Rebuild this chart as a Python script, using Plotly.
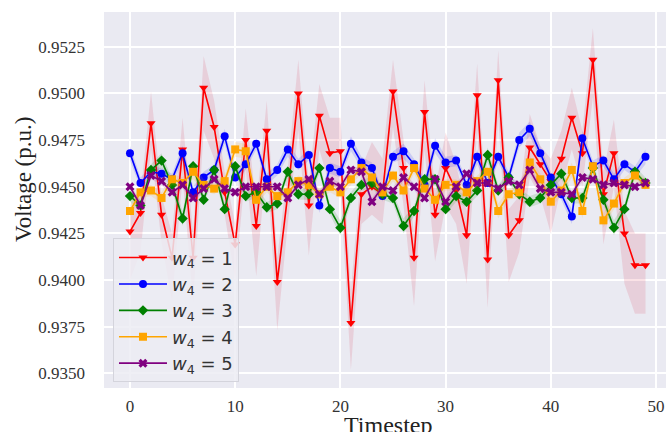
import plotly.graph_objects as go

timesteps = list(range(50))

red = [0.9426, 0.9436, 0.9484, 0.9435, 0.9412, 0.9470, 0.9412, 0.9503, 0.9482, 0.9447,
       0.9419, 0.9475, 0.9429, 0.9480, 0.9399, 0.9446, 0.9500, 0.9440, 0.9488, 0.9468,
       0.9469, 0.9377, 0.9446, 0.9450, 0.9446, 0.9501, 0.9460, 0.9412, 0.9490, 0.9435,
       0.9460, 0.9448, 0.9424, 0.9499, 0.9411, 0.9507, 0.9424, 0.9432, 0.9471, 0.9462,
       0.9453, 0.9465, 0.9487, 0.9468, 0.9518, 0.9446, 0.9468, 0.9425, 0.9408, 0.9408]
red_lo = [0.9400, 0.9415, 0.9470, 0.9420, 0.9389, 0.9455, 0.9388, 0.9480, 0.9465, 0.9435,
          0.9400, 0.9460, 0.9402, 0.9465, 0.9373, 0.9430, 0.9480, 0.9413, 0.9470, 0.9450,
          0.9450, 0.9352, 0.9430, 0.9435, 0.9430, 0.9482, 0.9440, 0.9386, 0.9470, 0.9410,
          0.9440, 0.9430, 0.9398, 0.9480, 0.9385, 0.9487, 0.9399, 0.9415, 0.9455, 0.9445,
          0.9425, 0.9450, 0.9470, 0.9450, 0.9498, 0.9419, 0.9450, 0.9398, 0.9382, 0.9382]
red_hi = [0.9438, 0.9445, 0.9501, 0.9445, 0.9425, 0.9487, 0.9425, 0.9520, 0.9496, 0.9458,
          0.9430, 0.9492, 0.9440, 0.9496, 0.9412, 0.9460, 0.9518, 0.9452, 0.9505, 0.9487,
          0.9487, 0.9395, 0.9460, 0.9474, 0.9465, 0.9518, 0.9475, 0.9425, 0.9507, 0.9448,
          0.9479, 0.9462, 0.9437, 0.9516, 0.9425, 0.9523, 0.9438, 0.9445, 0.9489, 0.9472,
          0.9465, 0.9480, 0.9503, 0.9480, 0.9535, 0.9458, 0.9486, 0.9437, 0.9425, 0.9425]

blue = [0.9468, 0.9452, 0.9458, 0.9457, 0.9454, 0.9468, 0.9447, 0.9455, 0.9459, 0.9477,
        0.9455, 0.9462, 0.9473, 0.9454, 0.9459, 0.9470, 0.9462, 0.9467, 0.9440, 0.9460,
        0.9458, 0.9473, 0.9463, 0.9460, 0.9445, 0.9466, 0.9469, 0.9462, 0.9451, 0.9472,
        0.9463, 0.9464, 0.9451, 0.9466, 0.9452, 0.9466, 0.9455, 0.9475, 0.9481, 0.9468,
        0.9455, 0.9446, 0.9434, 0.9476, 0.9461, 0.9464, 0.9454, 0.9462, 0.9458, 0.9466]
blue_sd = [0.0004, 0.0003, 0.0003, 0.0003, 0.0003, 0.0004, 0.0003, 0.0003, 0.0003, 0.0004,
           0.0003, 0.0003, 0.0003, 0.0003, 0.0003, 0.0004, 0.0003, 0.0003, 0.0004, 0.0003,
           0.0003, 0.0004, 0.0003, 0.0003, 0.0003, 0.0003, 0.0004, 0.0003, 0.0003, 0.0004,
           0.0003, 0.0003, 0.0003, 0.0004, 0.0003, 0.0003, 0.0003, 0.0004, 0.0004, 0.0003,
           0.0003, 0.0003, 0.0004, 0.0004, 0.0003, 0.0003, 0.0003, 0.0003, 0.0003, 0.0004]

green = [0.9445, 0.9440, 0.9459, 0.9464, 0.9451, 0.9433, 0.9461, 0.9443, 0.9459, 0.9438,
         0.9461, 0.9445, 0.9447, 0.9439, 0.9441, 0.9458, 0.9446, 0.9446, 0.9460, 0.9438,
         0.9428, 0.9444, 0.9451, 0.9452, 0.9446, 0.9444, 0.9429, 0.9437, 0.9454, 0.9454,
         0.9438, 0.9445, 0.9442, 0.9448, 0.9467, 0.9448, 0.9455, 0.9446, 0.9442, 0.9444,
         0.9451, 0.9457, 0.9444, 0.9444, 0.9460, 0.9443, 0.9428, 0.9438, 0.9458, 0.9452]
green_sd = [0.0003, 0.0003, 0.0003, 0.0004, 0.0003, 0.0004, 0.0003, 0.0003, 0.0003, 0.0003,
            0.0003, 0.0003, 0.0003, 0.0003, 0.0003, 0.0003, 0.0003, 0.0003, 0.0003, 0.0003,
            0.0004, 0.0003, 0.0003, 0.0003, 0.0003, 0.0003, 0.0004, 0.0003, 0.0003, 0.0003,
            0.0003, 0.0003, 0.0003, 0.0003, 0.0004, 0.0003, 0.0003, 0.0003, 0.0003, 0.0003,
            0.0003, 0.0003, 0.0003, 0.0003, 0.0003, 0.0003, 0.0004, 0.0003, 0.0003, 0.0003]

orange = [0.9437, 0.9447, 0.9448, 0.9444, 0.9454, 0.9452, 0.9458, 0.9451, 0.9449, 0.9453,
          0.9470, 0.9469, 0.9443, 0.9450, 0.9445, 0.9447, 0.9453, 0.9451, 0.9446, 0.9450,
          0.9447, 0.9454, 0.9460, 0.9455, 0.9447, 0.9456, 0.9448, 0.9460, 0.9449, 0.9443,
          0.9451, 0.9451, 0.9447, 0.9453, 0.9458, 0.9437, 0.9446, 0.9447, 0.9463, 0.9454,
          0.9442, 0.9448, 0.9459, 0.9437, 0.9461, 0.9432, 0.9441, 0.9452, 0.9456, 0.9451]
orange_sd = [0.0003, 0.0003, 0.0003, 0.0003, 0.0003, 0.0003, 0.0004, 0.0003, 0.0003, 0.0003,
             0.0004, 0.0004, 0.0003, 0.0003, 0.0003, 0.0003, 0.0003, 0.0003, 0.0003, 0.0003,
             0.0003, 0.0003, 0.0003, 0.0003, 0.0003, 0.0003, 0.0003, 0.0003, 0.0003, 0.0003,
             0.0003, 0.0003, 0.0003, 0.0003, 0.0003, 0.0004, 0.0003, 0.0003, 0.0004, 0.0003,
             0.0003, 0.0003, 0.0004, 0.0004, 0.0003, 0.0004, 0.0003, 0.0003, 0.0003, 0.0003]

purple = [0.9450, 0.9440, 0.9456, 0.9453, 0.9447, 0.9451, 0.9444, 0.9449, 0.9454, 0.9449,
          0.9447, 0.9450, 0.9450, 0.9450, 0.9450, 0.9444, 0.9451, 0.9454, 0.9446, 0.9453,
          0.9450, 0.9459, 0.9458, 0.9442, 0.9450, 0.9448, 0.9455, 0.9450, 0.9444, 0.9454,
          0.9442, 0.9450, 0.9457, 0.9452, 0.9452, 0.9449, 0.9453, 0.9451, 0.9459, 0.9449,
          0.9447, 0.9447, 0.9446, 0.9455, 0.9454, 0.9451, 0.9452, 0.9451, 0.9450, 0.9452]
purple_sd = [0.0002] * 50

series_names = ["<i>w</i><sub>4</sub> = 1", "<i>w</i><sub>4</sub> = 2", "<i>w</i><sub>4</sub> = 3",
                "<i>w</i><sub>4</sub> = 4", "<i>w</i><sub>4</sub> = 5"]

x_ticks = [0, 10, 20, 30, 40, 50]
y_ticks = [0.9350, 0.9375, 0.9400, 0.9425, 0.9450, 0.9475, 0.9500, 0.9525]

colors = ["#FF0000", "#0000FF", "#008000", "#FFA500", "#800080"]
fills = ["rgba(220,30,60,0.13)", "rgba(0,0,255,0.13)", "rgba(0,128,0,0.13)",
         "rgba(255,165,0,0.15)", "rgba(128,0,128,0.13)"]
symbols = ["triangle-down", "circle", "diamond", "square", "x"]

means = [red, blue, green, orange, purple]
los = [red_lo,
       [m - s for m, s in zip(blue, blue_sd)],
       [m - s for m, s in zip(green, green_sd)],
       [m - s for m, s in zip(orange, orange_sd)],
       [m - s for m, s in zip(purple, purple_sd)]]
his = [red_hi,
       [m + s for m, s in zip(blue, blue_sd)],
       [m + s for m, s in zip(green, green_sd)],
       [m + s for m, s in zip(orange, orange_sd)],
       [m + s for m, s in zip(purple, purple_sd)]]

fig = go.Figure()
for i in range(5):
    fig.add_trace(go.Scatter(x=timesteps, y=his[i], mode="lines", line=dict(width=0),
                             showlegend=False, hoverinfo="skip"))
    fig.add_trace(go.Scatter(x=timesteps, y=los[i], mode="lines", line=dict(width=0),
                             fill="tonexty", fillcolor=fills[i], showlegend=False, hoverinfo="skip"))
    fig.add_trace(go.Scatter(x=timesteps, y=means[i], mode="lines+markers", name=series_names[i],
                             line=dict(color=colors[i], width=1.6),
                             marker=dict(symbol=symbols[i], size=8, color=colors[i],
                                         line=dict(width=0))))

serif = "Liberation Serif"

fig.update_layout(
    width=666, height=432,
    margin=dict(l=104, r=0, t=12, b=44),
    paper_bgcolor="white",
    plot_bgcolor="#EAEAF2",
    font=dict(family=serif, color="#333333"),
    showlegend=True,
    legend=dict(
        x=0.016, y=0.015, xanchor="left", yanchor="bottom", traceorder="normal",
        bgcolor="rgba(236,236,243,0.85)", bordercolor="#D4D4DC", borderwidth=1,
        font=dict(family="DejaVu Sans", size=18, color="#333333"),
        itemwidth=48, tracegroupgap=0,
    ),
    xaxis=dict(
        range=[-2.47, 50.95], tickvals=x_ticks, ticktext=[str(v) for v in x_ticks],
        showgrid=True, gridcolor="white", gridwidth=1.5, zeroline=False,
        showline=False, ticks="", ticklabelstandoff=6,
        tickfont=dict(family=serif, size=17, color="#333333"),
    ),
    yaxis=dict(
        range=[0.93422, 0.95436], tickvals=y_ticks, ticktext=["%.4f" % v for v in y_ticks],
        showgrid=True, gridcolor="white", gridwidth=1.5, zeroline=False,
        showline=False, ticks="", ticklabelstandoff=18,
        tickfont=dict(family=serif, size=17, color="#333333"),
    ),
    annotations=[
        dict(text="Timestep", xref="paper", yref="paper", x=(388 - 104) / 562, y=-(425 - 388) / 376,
             xanchor="center", yanchor="middle", showarrow=False,
             font=dict(family=serif, size=24, color="#222222")),
        dict(text="Voltage (p.u.)", xref="paper", yref="paper", x=(23 - 104) / 562, y=(388 - 180) / 376,
             xanchor="center", yanchor="middle", showarrow=False, textangle=-90,
             font=dict(family=serif, size=23, color="#222222")),
    ],
)

fig.write_html("out.html", config={"displayModeBar": False},
               post_script="document.body.style.margin='0';document.body.style.overflow='hidden';")
